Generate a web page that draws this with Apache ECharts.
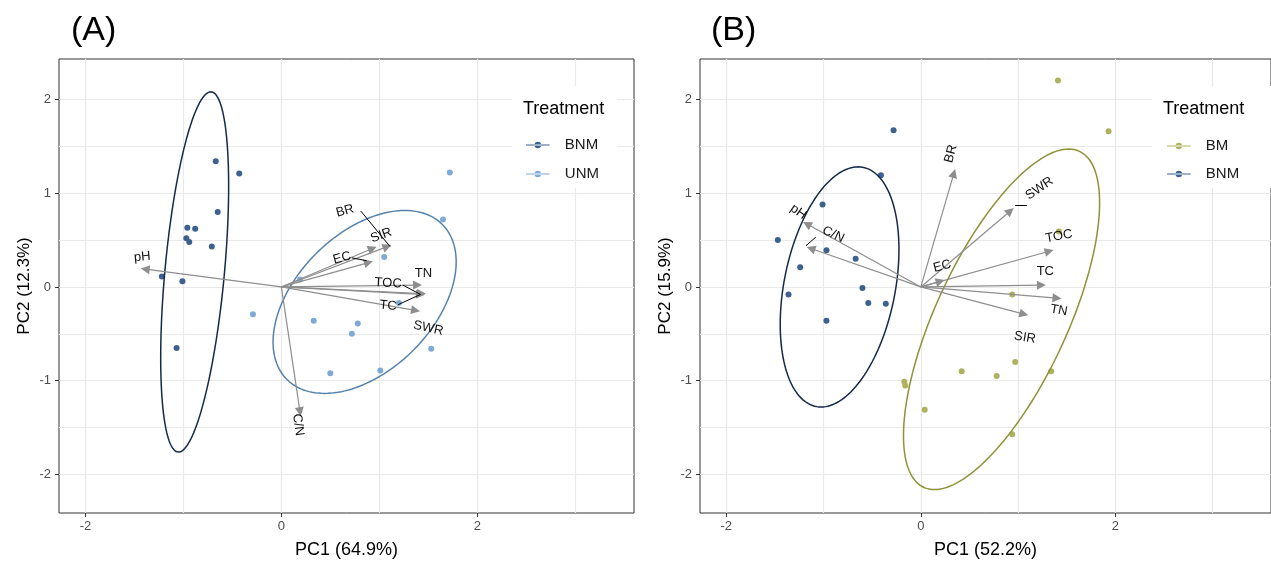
<!DOCTYPE html>
<html><head><meta charset="utf-8">
<script src="https://cdn.jsdelivr.net/npm/echarts@6/dist/echarts.min.js"></script>
<style>html,body{margin:0;padding:0;background:#fff}#c{width:1271px;height:564px}</style>
</head><body><div id="c"></div>
<script>
// ---- axis ticks ----
const xMajorTicks = [-2, 0, 2];
const xGridLines = [-2, -1, 0, 1, 2, 3];
const yMajorTicks = [-2, -1, 0, 1, 2];
const yGridLines = [-2, -1.5, -1, -0.5, 0, 0.5, 1, 1.5, 2];
const ORIGIN = [0, 0];

// ---- panel A : individuals ----
const A_BNM = [[-0.67,1.34],[-0.43,1.21],[-0.65,0.80],[-0.96,0.63],[-0.88,0.62],[-0.97,0.52],
  [-0.94,0.48],[-0.71,0.43],[-1.22,0.11],[-1.01,0.06],[-1.07,-0.65]];
const A_UNM = [[1.72,1.22],[1.65,0.72],[1.05,0.32],[-0.29,-0.29],[0.33,-0.36],[0.78,-0.39],
  [0.72,-0.50],[1.20,-0.17],[0.19,0.08],[1.53,-0.66],[0.50,-0.92],[1.01,-0.89]];
// ellipse: [centerX, centerY, topVecX, topVecY, halfChordX, halfChordY]
const A_ellBNM = [-0.885, 0.16, 0.165, 1.92, 0.305, 0];
const A_ellUNM = [0.85, -0.16, 0.41, 0.975, 0.84, 0];
// ---- panel A : variables ----
const A_vars = ['pH','BR','SIR','EC','TN','TOC','TC','SWR','C/N'];
const A_tips = [[-1.39,0.19],[1.08,0.43],[0.93,0.41],[0.89,0.26],[1.39,0.02],[1.43,-0.07],[1.42,-0.08],[1.37,-0.25],[0.19,-1.33]];
const A_labels = [[-1.42,0.32,5],[0.65,0.81,15],[1.02,0.55,20],[0.62,0.31,15],[1.45,0.14,0],[1.09,0.04,-3],[1.09,-0.20,-5],[1.50,-0.44,-12],[0.17,-1.47,-82]];
const A_leaders = [[[0.81,0.81],[1.11,0.43]],[[0.72,0.31],[0.87,0.28]],[[1.24,0.02],[1.42,-0.08]],[[1.19,-0.19],[1.42,-0.08]]];

// ---- panel B : individuals ----
const B_BM = [[1.41,2.20],[1.93,1.66],[1.42,0.59],[0.94,-0.08],[0.97,-0.80],[0.42,-0.90],
  [0.78,-0.95],[1.34,-0.90],[-0.17,-1.01],[-0.16,-1.05],[0.04,-1.31],[0.94,-1.57]];
const B_BNM = [[-0.28,1.67],[-0.41,1.19],[-1.01,0.88],[-1.47,0.50],[-0.97,0.39],[-0.67,0.30],
  [-1.24,0.21],[-0.60,-0.01],[-1.36,-0.08],[-0.54,-0.17],[-0.36,-0.18],[-0.97,-0.36]];
const B_ellBM = [0.83, -0.345, 0.69, 1.815, 0.735, 0];
const B_ellBNM = [-0.835, 0.0, 0.19, 1.28, 0.58, 0];
// ---- panel B : variables ----
const B_vars = ['pH','C/N','BR','EC','SWR','TOC','TC','TN','SIR'];
const B_tips = [[-1.17,0.67],[-1.13,0.41],[0.34,1.21],[0.20,0.06],[0.92,0.81],[1.32,0.38],[1.24,0.02],[1.40,-0.12],[1.06,-0.29]];
const B_labels = [[-1.26,0.80,-35],[-0.90,0.56,-25],[0.31,1.42,75],[0.22,0.22,15],[1.22,1.05,35],[1.42,0.54,10],[1.28,0.17,0],[1.42,-0.25,-10],[1.07,-0.54,-10]];
const B_leaders = [[[0.97,0.87],[1.09,0.87]],[[-1.18,0.44],[-1.08,0.53]]];

const FONT = "'Liberation Sans', Arial, Helvetica, sans-serif";
const X_MIN = -2.27, X_MAX = 3.60, Y_MIN = -2.41, Y_MAX = 2.43;
const C = {
  bnmPt: '#3c618e', bnmEll: '#15294a', unmPt: '#80aad6', unmEll: '#5683ad',
  bmPt: '#aeb25c', bmEll: '#8e9338', arrow: '#8e8e8e'
};

function xAxes(gi, name) {
  return [
    { gridIndex: gi, type: 'value', min: X_MIN, max: X_MAX, position: 'bottom',
      axisLine: { show: false, onZero: false },
      axisTick: { show: true, customValues: xMajorTicks, length: 4, lineStyle: { color: '#333', width: 1 } },
      axisLabel: { customValues: xMajorTicks, color: '#4d4d4d', fontSize: 13, margin: 7, fontFamily: FONT },
      splitLine: { show: false },
      name: name, nameLocation: 'middle', nameGap: 28,
      nameTextStyle: { fontSize: 18, color: '#000', fontFamily: FONT } },
    { gridIndex: gi, type: 'value', min: X_MIN, max: X_MAX, position: 'bottom',
      axisLine: { show: false, onZero: false }, axisTick: { show: false, customValues: xGridLines },
      axisLabel: { show: false },
      splitLine: { show: true, lineStyle: { color: '#e9e9e9', width: 1.2 } } }
  ];
}
function yAxes(gi, name) {
  return [
    { gridIndex: gi, type: 'value', min: Y_MIN, max: Y_MAX, position: 'left',
      axisLine: { show: false, onZero: false },
      axisTick: { show: true, customValues: yMajorTicks, length: 4, lineStyle: { color: '#333', width: 1 } },
      axisLabel: { customValues: yMajorTicks, color: '#4d4d4d', fontSize: 13, margin: 8, fontFamily: FONT },
      splitLine: { show: false },
      name: name, nameLocation: 'middle', nameGap: 26, nameRotate: 90,
      nameTextStyle: { fontSize: 17, color: '#000', fontFamily: FONT } },
    { gridIndex: gi, type: 'value', min: Y_MIN, max: Y_MAX, position: 'left',
      axisLine: { show: false, onZero: false }, axisTick: { show: false, customValues: yGridLines },
      axisLabel: { show: false },
      splitLine: { show: true, lineStyle: { color: '#e9e9e9', width: 1.2 } } }
  ];
}

function ellipseSeries(xi, yi, params, color) {
  return {
    type: 'custom', xAxisIndex: xi, yAxisIndex: yi, z: 3, silent: true,
    data: [params],
    renderItem: function (p, api) {
      const cx = api.value(0), cy = api.value(1), ax = api.value(2), ay = api.value(3),
            bx = api.value(4), by = api.value(5);
      const pts = [];
      for (let i = 0; i <= 160; i++) {
        const t = i / 160 * 2 * Math.PI;
        pts.push(api.coord([cx + ax * Math.cos(t) + bx * Math.sin(t), cy + ay * Math.cos(t) + by * Math.sin(t)]));
      }
      return { type: 'polyline', shape: { points: pts }, style: { stroke: color, fill: null, lineWidth: 1.5 } };
    }
  };
}
function arrowSeries(xi, yi, tips) {
  return {
    type: 'lines', coordinateSystem: 'cartesian2d', xAxisIndex: xi, yAxisIndex: yi, z: 4, silent: true,
    symbol: ['none', 'triangle'], symbolSize: 9,
    lineStyle: { color: C.arrow, width: 1.2, opacity: 1 },
    data: tips.map(t => ({ coords: [ORIGIN, t] }))
  };
}
function leaderSeries(xi, yi, segs) {
  return {
    type: 'lines', coordinateSystem: 'cartesian2d', xAxisIndex: xi, yAxisIndex: yi, z: 5, silent: true,
    symbol: ['none', 'none'], lineStyle: { color: '#000', width: 1, opacity: 1 },
    data: segs.map(s => ({ coords: s }))
  };
}
function labelSeries(xi, yi, pos, names) {
  return {
    type: 'custom', xAxisIndex: xi, yAxisIndex: yi, z: 6, silent: true,
    data: pos,
    renderItem: function (p, api) {
      const pt = api.coord([api.value(0), api.value(1)]);
      return { type: 'text', x: pt[0], y: pt[1], rotation: api.value(2) * Math.PI / 180,
        style: { text: names[p.dataIndex], fill: '#111', fontSize: 13, fontFamily: FONT,
                 align: 'center', verticalAlign: 'middle' } };
    }
  };
}
function scatter(name, xi, yi, data, color) {
  return { type: 'scatter', name: name, xAxisIndex: xi, yAxisIndex: yi, z: 2,
    symbol: 'circle', symbolSize: 6, itemStyle: { color: color, opacity: 1 }, data: data };
}

const KEY = 'path://M0,4.45 L24,4.45 L24,5.55 L0,5.55 Z M8.7,5 A3.3,3.3 0 1,0 15.3,5 A3.3,3.3 0 1,0 8.7,5 Z';

const chart = echarts.init(document.getElementById('c'), null, { renderer: 'canvas' });
chart.setOption({
  backgroundColor: '#fff',
  animation: false,
  textStyle: { fontFamily: FONT },
  title: [
    { text: '(A)', left: 66, top: 9, z: 10, textStyle: { fontSize: 34, fontWeight: 'normal', color: '#000', fontFamily: FONT } },
    { text: '(B)', left: 706, top: 9, z: 10, textStyle: { fontSize: 34, fontWeight: 'normal', color: '#000', fontFamily: FONT } },
    { text: 'Treatment', left: 518, top: 95, z: 10, textStyle: { fontSize: 18, fontWeight: 'normal', color: '#000', fontFamily: FONT } },
    { text: 'Treatment', left: 1158, top: 95, z: 10, textStyle: { fontSize: 18, fontWeight: 'normal', color: '#000', fontFamily: FONT } }
  ],
  grid: [
    { left: 59, top: 59, width: 575, height: 458, show: true, borderColor: '#333', borderWidth: 1, backgroundColor: '#fff' },
    { left: 700, top: 59, width: 575, height: 458, show: true, borderColor: '#333', borderWidth: 1, backgroundColor: '#fff' }
  ],
  xAxis: [].concat(xAxes(0, 'PC1 (64.9%)'), xAxes(1, 'PC1 (52.2%)')),
  yAxis: [].concat(yAxes(0, 'PC2 (12.3%)'), yAxes(1, 'PC2 (15.9%)')),
  graphic: [
    { type: 'rect', z: 9, shape: { x: 512, y: 86, width: 105, height: 102 }, style: { fill: '#fff' }, silent: true },
    { type: 'rect', z: 9, shape: { x: 1152, y: 86, width: 119, height: 102 }, style: { fill: '#fff' }, silent: true }
  ],
  legend: [
    { data: [{ name: 'BNM', icon: KEY }, { name: 'UNM', icon: KEY }], orient: 'vertical', left: 521, top: 132,
      itemWidth: 26, itemHeight: 6.5, itemGap: 13, z: 10, selectedMode: false,
      textStyle: { fontSize: 15, color: '#1a1a1a', lineHeight: 16, padding: [0, 0, 0, 9], fontFamily: FONT } },
    { data: [{ name: 'BM', icon: KEY }, { name: 'BNM', icon: KEY }], orient: 'vertical', left: 1162, top: 133,
      itemWidth: 26, itemHeight: 6.5, itemGap: 12, z: 10, selectedMode: false,
      textStyle: { fontSize: 15, color: '#1a1a1a', lineHeight: 16, padding: [0, 0, 0, 9], fontFamily: FONT } }
  ],
  series: [
    scatter('BNM', 0, 0, A_BNM, C.bnmPt),
    scatter('UNM', 0, 0, A_UNM, C.unmPt),
    ellipseSeries(0, 0, A_ellBNM, C.bnmEll),
    ellipseSeries(0, 0, A_ellUNM, C.unmEll),
    arrowSeries(0, 0, A_tips),
    leaderSeries(0, 0, A_leaders),
    labelSeries(0, 0, A_labels, A_vars),
    scatter('BM', 2, 2, B_BM, C.bmPt),
    scatter('BNM', 2, 2, B_BNM, C.bnmPt),
    ellipseSeries(2, 2, B_ellBM, C.bmEll),
    ellipseSeries(2, 2, B_ellBNM, C.bnmEll),
    arrowSeries(2, 2, B_tips),
    leaderSeries(2, 2, B_leaders),
    labelSeries(2, 2, B_labels, B_vars)
  ]
});
</script></body></html>
